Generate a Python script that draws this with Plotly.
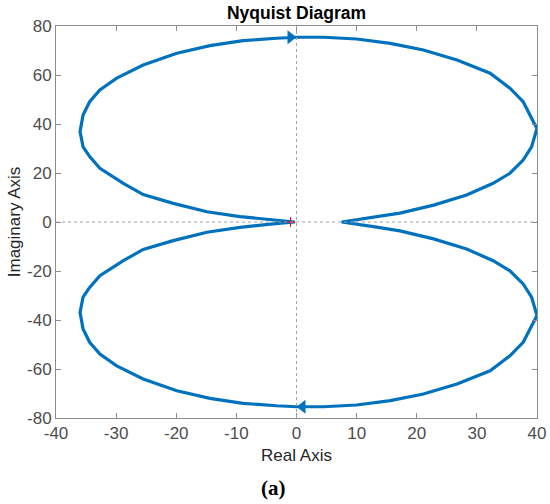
import plotly.graph_objects as go

# upper lobe of the Nyquist curve (real, imag)
upper_re = [-0.3, -3.9, -9.4, -14.9, -20.5, -25.5, -28.8, -32.7, -34.4, -35.5, -36.0,
            -35.5, -34.4, -32.7, -29.9, -25.5, -19.9, -14.4, -8.9, -3.3, 0.0,
            4.5, 10.0, 15.6, 21.1, 26.7, 32.2, 35.5, 37.7, 39.4, 40.0,
            39.1, 37.7, 35.5, 32.7, 28.3, 22.8, 17.2, 12.8, 7.5]
upper_im = [0.0, 0.8, 2.2, 4.2, 7.6, 11.2, 15.8, 21.9, 26.7, 30.7, 36.9,
            43.7, 49.1, 53.9, 58.7, 64.1, 68.9, 72.0, 74.0, 75.0, 75.4,
            75.4, 74.7, 72.9, 70.2, 66.1, 60.7, 54.6, 49.1, 40.9, 38.2,
            30.7, 25.3, 19.9, 15.8, 11.0, 6.9, 3.6, 1.9, 0.0]

# lower lobe is the mirror image, walked back the other way
lower_re = upper_re[::-1]
lower_im = [-v for v in upper_im[::-1]]

re = upper_re + lower_re
im = upper_im + lower_im

arrow_re = [-1.0, 1.0]
arrow_im = [75.4, -75.4]
arrow_sym = ['triangle-right', 'triangle-left']

critical_re = [-1]
critical_im = [0]

x_ticks = [-40, -30, -20, -10, 0, 10, 20, 30, 40]
x_labels = ['-40', '-30', '-20', '-10', '0', '10', '20', '30', '40']
y_ticks = [-80, -60, -40, -20, 0, 20, 40, 60, 80]
y_labels = ['-80', '-60', '-40', '-20', '0', '20', '40', '60', '80']

blue = '#0072BD'
grey_txt = '#4d4d4d'
axis_col = '#8c8c8c'
font = 'Liberation Sans, Arial, sans-serif'

fig = go.Figure()
fig.add_hline(y=0, line=dict(color='#a0a0a0', width=1, dash='dot'))
fig.add_vline(x=0, line=dict(color='#a0a0a0', width=1, dash='dot'))

fig.add_trace(go.Scatter(x=re, y=im, mode='lines',
                         line=dict(color=blue, width=3.2)))
fig.add_trace(go.Scatter(x=arrow_re, y=arrow_im, mode='markers',
                         marker=dict(symbol=arrow_sym, size=12, color=blue, line_width=0)))
fig.add_trace(go.Scatter(x=critical_re, y=critical_im, mode='markers',
                         marker=dict(symbol='cross-thin', size=7,
                                     line=dict(color='red', width=1))))

axis_style = dict(showline=True, linecolor=axis_col, linewidth=1, mirror='ticks',
                  ticks='inside', ticklen=5, tickcolor=axis_col, showgrid=False,
                  zeroline=False, automargin=False,
                  tickfont=dict(family=font, size=17, color=grey_txt))

fig.update_xaxes(range=[-40, 40], tickmode='array', tickvals=x_ticks, ticktext=x_labels,
                 title=dict(text='Real Axis', font=dict(family=font, size=17, color='#262626'),
                            standoff=6), **axis_style)
fig.update_yaxes(range=[-80, 80], tickmode='array', tickvals=y_ticks, ticktext=y_labels,
                 title=dict(text='Imaginary Axis', font=dict(family=font, size=17, color='#262626'),
                            standoff=2), **axis_style)

fig.add_annotation(text='<b>(a)</b>', xref='paper', yref='paper', x=0.453, y=-0.179,
                   xanchor='center', yanchor='middle', showarrow=False,
                   font=dict(family='Liberation Serif, serif', size=21, color='black'))

fig.update_layout(
    width=550, height=504,
    margin=dict(l=56, r=13, t=26, b=86),
    plot_bgcolor='white', paper_bgcolor='white',
    showlegend=False,
    title=dict(text='<b>Nyquist Diagram</b>', x=0.5, xref='paper', xanchor='center',
               y=0.975, yref='container', yanchor='middle',
               font=dict(family=font, size=17.5, color='black')),
)

# body has an 8px default margin, drop it so the 550x504 figure fills the window
fig.write_html("out.html", config={'displayModeBar': False},
               post_script="document.body.style.margin='0';")
